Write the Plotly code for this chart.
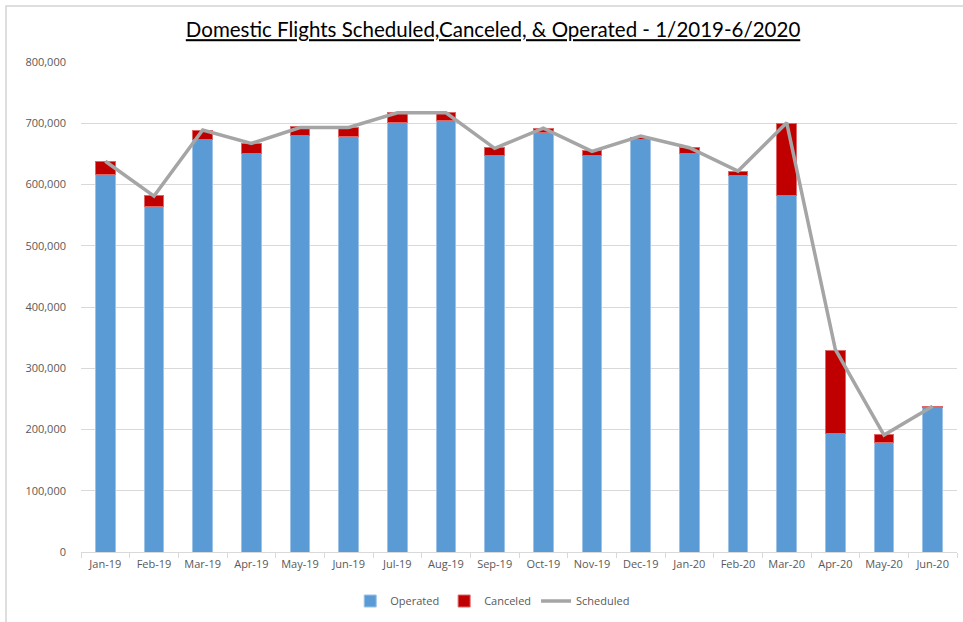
import plotly.graph_objects as go

months = ["Jan-19", "Feb-19", "Mar-19", "Apr-19", "May-19", "Jun-19", "Jul-19", "Aug-19", "Sep-19",
          "Oct-19", "Nov-19", "Dec-19", "Jan-20", "Feb-20", "Mar-20", "Apr-20", "May-20", "Jun-20"]
operated = [617000, 564000, 674000, 651000, 680000, 678000, 701000, 704000, 648000,
            685000, 648000, 673000, 651000, 615000, 582000, 194000, 178000, 236000]
canceled = [20000, 18000, 14000, 16000, 14000, 15000, 16000, 13000, 12000,
            7000, 7000, 4000, 9000, 6000, 117000, 135000, 14000, 2000]
scheduled = [638000, 581000, 689000, 667000, 693000, 693000, 717000, 717000, 659000,
             692000, 654000, 679000, 660000, 622000, 701000, 331000, 191000, 238000]
y_ticks = [0, 100000, 200000, 300000, 400000, 500000, 600000, 700000, 800000]

fig = go.Figure()
fig.add_trace(go.Bar(x=months, y=operated, name="Operated",
                     marker=dict(color="#5B9BD5", line=dict(color="#9DC3E6", width=1))))
fig.add_trace(go.Bar(x=months, y=canceled, name="Canceled",
                     marker=dict(color="#C00000", line=dict(color="#E06666", width=1))))
fig.add_trace(go.Scatter(x=months, y=scheduled, name="Scheduled", mode="lines",
                         line=dict(color="#A5A5A5", width=3.5)))

fig.update_layout(
    width=963, height=622,
    barmode="stack", bargap=0.6,
    paper_bgcolor="white", plot_bgcolor="white",
    margin=dict(l=81, r=6, t=62, b=70),
    font=dict(family="Open Sans", color="#595959", size=11),
    title=dict(text="<u>Domestic Flights Scheduled,Canceled, & Operated - 1/2019-6/2020</u>",
               x=0.512, xanchor="center", y=1 - 30 / 622, yanchor="middle",
               font=dict(family="Lato", size=20.5, color="#000000")),
    xaxis=dict(showgrid=False, showline=True, linecolor="#D9D9D9", linewidth=1,
               ticks="outside", ticklen=5, tickcolor="#D9D9D9",
               tickson="boundaries", tickfont=dict(size=11, color="#595959"),
               ticklabelstandoff=2),
    yaxis=dict(range=[0, 800000], tickvals=y_ticks, tickformat=",",
               showgrid=True, gridcolor="#D9D9D9", gridwidth=1, zeroline=False,
               showline=False, tickfont=dict(size=11, color="#595959"), ticklabelstandoff=14),
    legend=dict(orientation="h", x=0.47, xanchor="center", y=-0.1, yanchor="middle",
                font=dict(size=11, color="#595959"), itemwidth=30, traceorder="normal"),
    showlegend=True,
)

fig.add_shape(type="rect", xref="paper", yref="paper",
              x0=-75 / 876, x1=1.1, y0=-0.2, y1=1 + 56 / 490,
              line=dict(color="#D4D4D4", width=1.5), fillcolor="rgba(0,0,0,0)", layer="below")

fig.write_html("out.html", config={"displayModeBar": False},
               post_script="document.body.style.margin='0';")
